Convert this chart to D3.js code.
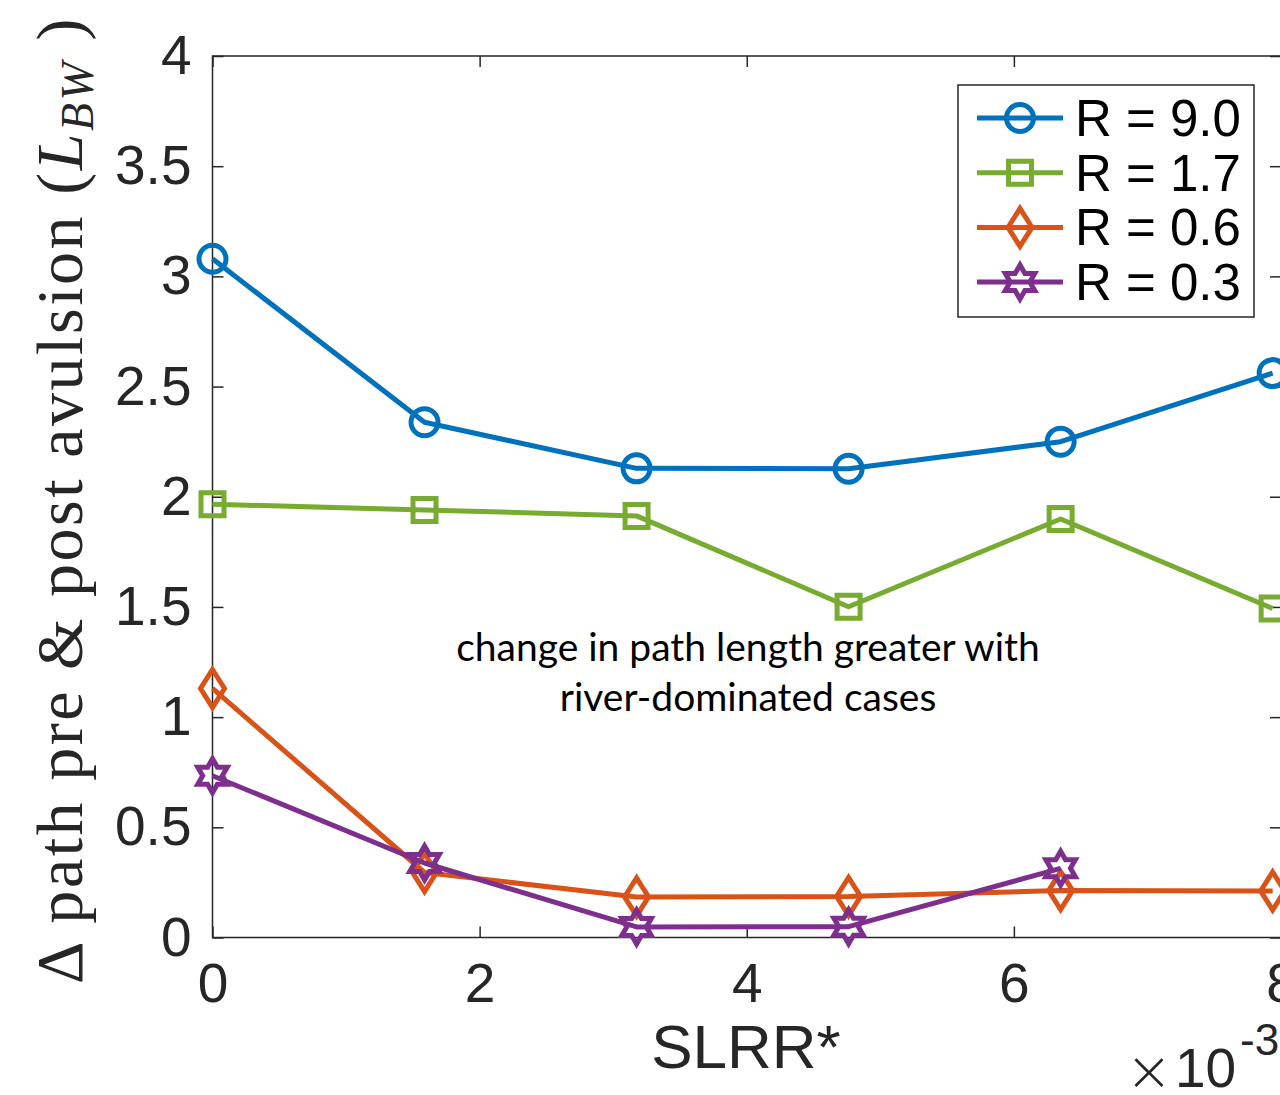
<!DOCTYPE html>
<html lang="en">
<head>
    <meta charset="UTF-8">
    <title>Path change vs SLRR*</title>
    <script src="https://d3js.org/d3.v7.min.js"></script>
    <style>
        body, html {
            margin: 0;
            padding: 0;
            background-color: #ffffff;
            overflow: hidden;
        }
        svg {
            display: block;
        }
        .tick text {
            font-family: 'Liberation Sans', Arial, sans-serif;
            font-size: 55px;
            fill: #262626;
        }
    </style>
</head>
<body>
    <svg id="chart"></svg>

    <script>
        const slrr = [0, 0.0015875, 0.003175, 0.0047625, 0.00635, 0.0079375];
        const pathR90 = [3.08, 2.338, 2.129, 2.127, 2.25, 2.561];
        const pathR17 = [1.966, 1.94, 1.913, 1.501, 1.899, 1.493];
        const pathR06 = [1.13, 0.295, 0.184, 0.186, 0.213, 0.211];
        const pathR03 = [0.734, 0.338, 0.048, 0.049, 0.314];

        const seriesNames = ['R = 9.0', 'R = 1.7', 'R = 0.6', 'R = 0.3'];
        const xTicks = [0, 0.002, 0.004, 0.006, 0.008];
        const yTicks = [0, 0.5, 1, 1.5, 2, 2.5, 3, 3.5, 4];
        const noteLines = ['change in path length greater with', 'river-dominated cases'];

        const width = 1280, height = 1095;
        const axisColor = '#262626';
        const lw = 5;

        const series = [
            { name: seriesNames[0], values: pathR90, color: '#0072BD', marker: 'circle' },
            { name: seriesNames[1], values: pathR17, color: '#77AC30', marker: 'square' },
            { name: seriesNames[2], values: pathR06, color: '#D95319', marker: 'diamond' },
            { name: seriesNames[3], values: pathR03, color: '#7E2F8E', marker: 'hexagram' }
        ];

        const svg = d3.select('#chart')
            .attr('width', width)
            .attr('height', height);

        const x = d3.scaleLinear().domain([0, 0.008]).range([212.5, 1281]);
        const y = d3.scaleLinear().domain([0, 4]).range([937.5, 56]);

        // marker outlines, centred on 0,0
        function markerPath(type) {
            if (type === 'circle') {
                return d3.arc()({ innerRadius: 0, outerRadius: 13.5, startAngle: 0, endAngle: 2 * Math.PI });
            }
            if (type === 'square') {
                return 'M-11.5,-11.5H11.5V11.5H-11.5Z';
            }
            if (type === 'diamond') {
                return 'M0,-19L12,0L0,19L-12,0Z';
            }
            // six-pointed star, point up
            const pts = d3.range(12).map(i => {
                const a = -Math.PI / 2 + i * Math.PI / 6;
                const r = i % 2 === 0 ? 17 : 17 / Math.sqrt(3);
                return [r * Math.cos(a), r * Math.sin(a)];
            });
            return d3.line()(pts) + 'Z';
        }

        // axes: ticks pointing inward on all four sides
        const xAxis = d3.axisBottom(x)
            .tickValues(xTicks)
            .tickFormat(d => Math.round(d * 1000))
            .tickSizeInner(-11).tickSizeOuter(0).tickPadding(25);
        const yAxis = d3.axisLeft(y)
            .tickValues(yTicks)
            .tickFormat(d => String(d))
            .tickSizeInner(-11).tickSizeOuter(0).tickPadding(21);

        const gx = svg.append('g').attr('transform', 'translate(0,' + y(0) + ')').call(xAxis);
        const gy = svg.append('g').attr('transform', 'translate(' + x(0) + ',0)').call(yAxis);
        const gxTop = svg.append('g').attr('transform', 'translate(0,' + y(4) + ')')
            .call(d3.axisTop(x).tickValues(xTicks).tickFormat('').tickSizeInner(-11).tickSizeOuter(0));
        const gyRight = svg.append('g').attr('transform', 'translate(' + x(0.008) + ',0)')
            .call(d3.axisRight(y).tickValues(yTicks).tickFormat('').tickSizeInner(-11).tickSizeOuter(0));

        [gx, gy, gxTop, gyRight].forEach(g => {
            g.select('.domain').remove();
            g.selectAll('line').attr('stroke', axisColor).attr('stroke-width', 1.5);
        });

        svg.append('rect')
            .attr('x', x(0)).attr('y', y(4))
            .attr('width', x(0.008) - x(0)).attr('height', y(0) - y(4))
            .attr('fill', 'none')
            .attr('stroke', axisColor)
            .attr('stroke-width', 1.5);

        // series: line then open markers
        series.forEach(s => {
            const pts = s.values.map((v, i) => [x(slrr[i]), y(v)]);
            svg.append('path')
                .attr('d', d3.line()(pts))
                .attr('fill', 'none')
                .attr('stroke', s.color)
                .attr('stroke-width', lw)
                .attr('stroke-linejoin', 'round');
            svg.append('g').selectAll('path')
                .data(pts)
                .join('path')
                .attr('transform', d => 'translate(' + d[0] + ',' + d[1] + ')')
                .attr('d', markerPath(s.marker))
                .attr('fill', 'none')
                .attr('stroke', s.color)
                .attr('stroke-width', lw);
        });

        // annotation
        svg.append('g').selectAll('text')
            .data(noteLines)
            .join('text')
            .attr('x', 748)
            .attr('y', (d, i) => 661 + i * 50)
            .attr('text-anchor', 'middle')
            .attr('font-family', "Lato, 'Open Sans', sans-serif")
            .attr('font-size', 39)
            .attr('fill', '#000')
            .text(d => d);

        // legend
        const legend = svg.append('g');
        legend.append('rect')
            .attr('x', 958).attr('y', 85)
            .attr('width', 296).attr('height', 232)
            .attr('fill', '#fff')
            .attr('stroke', axisColor)
            .attr('stroke-width', 1.5);
        series.forEach((s, i) => {
            const ry = 118 + i * 54.7;
            legend.append('line')
                .attr('x1', 977).attr('x2', 1063)
                .attr('y1', ry).attr('y2', ry)
                .attr('stroke', s.color)
                .attr('stroke-width', lw);
            legend.append('path')
                .attr('transform', 'translate(1020,' + ry + ')')
                .attr('d', markerPath(s.marker))
                .attr('fill', 'none')
                .attr('stroke', s.color)
                .attr('stroke-width', lw);
            legend.append('text')
                .attr('x', 1075)
                .attr('y', ry + 18)
                .attr('font-family', "'Liberation Sans', Arial, sans-serif")
                .attr('font-size', 51)
                .attr('fill', '#000')
                .text(s.name);
        });

        // x label and exponent
        svg.append('text')
            .attr('x', 746).attr('y', 1068)
            .attr('text-anchor', 'middle')
            .attr('font-family', "'Liberation Sans', Arial, sans-serif")
            .attr('font-size', 62)
            .attr('fill', axisColor)
            .text('SLRR*');

        const expoFont = "'Liberation Sans', Arial, sans-serif";
        svg.append('text')
            .attr('x', 1149).attr('y', 1090)
            .attr('text-anchor', 'middle')
            .attr('font-family', "'DejaVu Sans', sans-serif")
            .attr('font-weight', 200)
            .attr('font-size', 56)
            .attr('fill', axisColor)
            .text('\u00d7');
        svg.append('text')
            .attr('x', 1175).attr('y', 1087)
            .attr('font-family', expoFont)
            .attr('font-size', 55)
            .attr('fill', axisColor)
            .text('10');
        svg.append('text')
            .attr('x', 1240).attr('y', 1055)
            .attr('font-family', expoFont)
            .attr('font-size', 44)
            .attr('fill', axisColor)
            .text('-3');

        // y label (LaTeX-like serif), stretched to the reference length
        const ylab = svg.append('text')
            .attr('transform', 'translate(82,500) rotate(-90)')
            .attr('text-anchor', 'middle')
            .attr('font-family', "'Liberation Serif', 'DejaVu Serif', serif")
            .attr('font-size', 66)
            .attr('fill', axisColor);
        ylab.append('tspan').text('\u0394 path pre & post avulsion (');
        ylab.append('tspan').attr('font-style', 'italic').text('L');
        ylab.append('tspan').attr('font-style', 'italic').attr('font-size', 46).attr('dy', 11).text('BW');
        ylab.append('tspan').attr('dy', -11).text(' )');
        const ylen = ylab.node().getComputedTextLength();
        const nChars = ylab.text().length;
        ylab.attr('letter-spacing', Math.max(0, (968 - ylen) / nChars));
    </script>
</body>
</html>
